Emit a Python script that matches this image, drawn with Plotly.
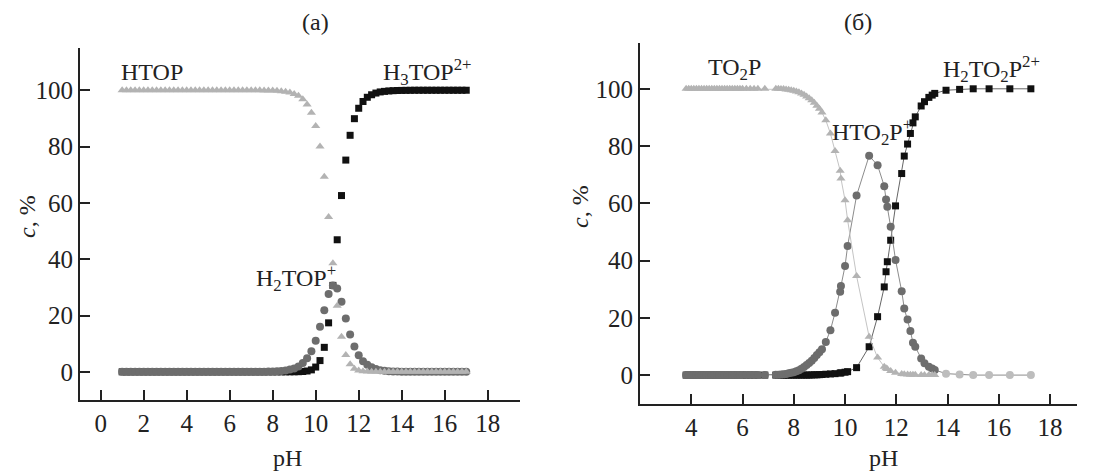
import plotly.graph_objects as go

# ---------------- Panel (a) data ----------------
ph_a = [1.0, 1.2, 1.4, 1.6, 1.8, 2.0, 2.2, 2.4, 2.6, 2.8,
        3.0, 3.2, 3.4, 3.6, 3.8, 4.0, 4.2, 4.4, 4.6, 4.8,
        5.0, 5.2, 5.4, 5.6, 5.8, 6.0, 6.2, 6.4, 6.6, 6.8,
        7.0, 7.2, 7.4, 7.6, 7.8, 8.0, 8.2, 8.4, 8.6, 8.8,
        9.0, 9.2, 9.4, 9.6, 9.8, 10.0, 10.2, 10.4, 10.6, 10.8,
        11.0, 11.2, 11.4, 11.6, 11.8, 12.0, 12.2, 12.4, 12.6, 12.8,
        13.0, 13.2, 13.4, 13.6, 13.8, 14.0, 14.2, 14.4, 14.6, 14.8,
        15.0, 15.2, 15.4, 15.6, 15.8, 16.0, 16.2, 16.4, 16.6, 16.8,
        17.0]

htop = [100, 100, 100, 100, 100, 100, 100, 100, 100, 100,
        100, 100, 100, 100, 100, 100, 100, 100, 100, 100,
        100, 100, 100, 100, 100, 100, 100, 100, 100, 100,
        100, 100, 100, 99.95, 99.92, 99.87, 99.8, 99.68, 99.5, 99.2,
        98.7, 98.0, 96.8, 94.9, 92.0, 87.3, 80.0, 69.3, 55.0, 38.6,
        23.5, 12.5, 6.0, 2.7, 1.1, 0.5, 0.2, 0.1, 0, 0,
        0, 0, 0, 0, 0, 0, 0, 0, 0, 0,
        0, 0, 0, 0, 0, 0, 0, 0, 0, 0,
        0]

h2top = [0, 0, 0, 0, 0, 0, 0, 0, 0, 0,
         0, 0, 0, 0, 0, 0, 0, 0, 0, 0,
         0, 0, 0, 0, 0, 0, 0, 0, 0, 0,
         0, 0.02, 0.03, 0.05, 0.08, 0.13, 0.2, 0.32, 0.5, 0.8,
         1.2, 1.9, 3.1, 4.8, 7.3, 11.0, 16.0, 21.9, 27.6, 30.7,
         29.6, 24.9, 18.9, 13.3, 9.0, 5.9, 3.8, 2.5, 1.6, 1.0,
         0.6, 0.4, 0.25, 0.16, 0.1, 0.06, 0.04, 0.02, 0, 0,
         0, 0, 0, 0, 0, 0, 0, 0, 0, 0,
         0]

h3top = [0, 0, 0, 0, 0, 0, 0, 0, 0, 0,
         0, 0, 0, 0, 0, 0, 0, 0, 0, 0,
         0, 0, 0, 0, 0, 0, 0, 0, 0, 0,
         0, 0, 0, 0, 0, 0, 0, 0, 0, 0.01,
         0.02, 0.05, 0.12, 0.3, 0.7, 1.7, 4.0, 8.7, 17.4, 30.7,
         46.9, 62.6, 75.2, 84.0, 89.9, 93.6, 96.0, 97.5, 98.4, 99.0,
         99.4, 99.6, 99.75, 99.84, 99.9, 99.94, 99.96, 99.98, 100, 100,
         100, 100, 100, 100, 100, 100, 100, 100, 100, 100,
         100]

# ---------------- Panel (б) data ----------------
ph_b = [3.8, 3.9, 4.0, 4.1, 4.2, 4.3, 4.4, 4.5, 4.6, 4.7,
        4.8, 4.9, 5.0, 5.1, 5.2, 5.3, 5.4, 5.5, 5.6, 5.7,
        5.8, 5.9, 6.0, 6.15, 6.3, 6.45, 6.6, 6.87,
        7.3, 7.4, 7.5, 7.6, 7.7, 7.8, 7.9, 8.0, 8.1, 8.2,
        8.3, 8.4, 8.5, 8.6, 8.7, 8.8, 8.9, 9.0, 9.1,
        9.25, 9.43, 9.61, 9.81, 9.84, 10.0, 10.1, 10.45, 10.94, 11.27,
        11.53, 11.6, 11.65, 11.78, 11.97, 12.21, 12.31, 12.44, 12.55, 12.65,
        12.74, 12.97, 13.1, 13.27, 13.4, 13.5,
        13.94, 14.47, 15.0, 15.62, 16.43, 17.25]

to2p = [100, 100, 100, 100, 100, 100, 100, 100, 100, 100,
        100, 100, 100, 100, 100, 100, 100, 100, 100, 100,
        100, 100, 100, 100, 100, 100, 100, 100,
        100, 100, 99.9, 99.9, 99.8, 99.7, 99.5, 99.3, 99.1, 98.8,
        98.4, 97.9, 97.3, 96.7, 96.0, 95.1, 94.1, 93.0, 91.7,
        89.0, 84.4, 78.3, 71.4, 68.7, 61.1, 54.1, 34.6, 13.4, 6.1,
        2.9, 2.4, 2.1, 1.4, 0.8, 0.4, 0.3, 0.2, 0.1, 0.1,
        0.1, 0, 0, 0, 0, 0]

hto2p = [0, 0, 0, 0, 0, 0, 0, 0, 0, 0,
         0, 0, 0, 0, 0, 0, 0, 0, 0, 0,
         0, 0, 0, 0, 0, 0, 0, 0,
         0.1, 0.15, 0.2, 0.3, 0.4, 0.6, 0.8, 1.0, 1.3, 1.7,
         2.2, 2.8, 3.5, 4.2, 5.0, 6.0, 7.0, 8.0, 9.0,
         11.6, 15.7, 21.8, 29.1, 31.1, 38.1, 45.1, 62.7, 76.6, 73.3,
         66.0, 61.3, 58.8, 51.8, 40.2, 29.3, 23.3, 19.4, 15.4, 11.3,
         9.9, 5.8, 4.1, 2.9, 2.3, 1.8,
         0.5, 0.2, 0, 0, 0, 0]

h2to2p = [0, 0, 0, 0, 0, 0, 0, 0, 0, 0,
          0, 0, 0, 0, 0, 0, 0, 0, 0, 0,
          0, 0, 0, 0, 0, 0, 0, 0,
          0, 0, 0, 0, 0, 0, 0, 0, 0, 0,
          0, 0, 0, 0, 0.05, 0.1, 0.1, 0.15, 0.2,
          0.3, 0.4, 0.5, 0.7, 0.8, 1.0, 1.2, 2.6, 9.9, 20.4,
          30.8, 36.1, 39.6, 47.1, 59.1, 70.4, 76.5, 80.7, 84.4, 88.1,
          90.2, 94.0, 95.5, 97.0, 97.8, 98.4,
          99.5, 99.8, 100, 100, 100, 100]

LIGHT = "#b3b3b3"
MID = "#6d6d6d"
DARK = "#111111"
TXT = "#222222"
FONT = "Liberation Serif"

n_tri_b = 74  # triangles of panel (б) end at pH 13.5
circ_colors_b = [MID if x <= 13.5 else "#bdbdbd" for x in ph_b]

fig = go.Figure()

# Panel (a): markers only
fig.add_trace(go.Scatter(x=ph_a, y=h3top, mode="markers", xaxis="x", yaxis="y",
                         marker=dict(symbol="square", size=7, color=DARK)))
fig.add_trace(go.Scatter(x=ph_a, y=h2top, mode="markers", xaxis="x", yaxis="y",
                         marker=dict(symbol="circle", size=8, color=MID)))
fig.add_trace(go.Scatter(x=ph_a, y=htop, mode="markers", xaxis="x", yaxis="y",
                         marker=dict(symbol="triangle-up", size=8, color=LIGHT)))

# Panel (б): markers + thin lines
fig.add_trace(go.Scatter(x=ph_b, y=h2to2p, mode="lines+markers", xaxis="x2", yaxis="y2",
                         line=dict(color="#666666", width=1),
                         marker=dict(symbol="square", size=7, color=DARK)))
fig.add_trace(go.Scatter(x=ph_b, y=hto2p, mode="lines+markers", xaxis="x2", yaxis="y2",
                         line=dict(color="#8c8c8c", width=1),
                         marker=dict(symbol="circle", size=8, color=circ_colors_b)))
fig.add_trace(go.Scatter(x=ph_b[:n_tri_b], y=to2p[:n_tri_b], mode="lines+markers",
                         xaxis="x2", yaxis="y2",
                         line=dict(color="#c4c4c4", width=1),
                         marker=dict(symbol="triangle-up", size=8, color=LIGHT)))

axis_common = dict(showline=True, linecolor=TXT, linewidth=2, ticks="inside",
                   ticklen=10, tickwidth=2, tickcolor=TXT, showgrid=False,
                   zeroline=False, mirror=False,
                   tickfont=dict(family=FONT, size=25, color=TXT))

# The page body has an 8 px margin, so the figure starts at (8, 8) in the window.
OFF = 8
W, H = 1115 - OFF, 471 - OFF


def px(x):
    return (x - OFF) / W


def py(y):
    return 1 - (y - OFF) / H


fig.update_layout(
    width=W, height=H, margin=dict(l=0, r=0, t=0, b=0),
    paper_bgcolor="white", plot_bgcolor="white", showlegend=False,
    xaxis=dict(domain=[px(80), px(520)], range=[-0.96, 19.5],
               tickvals=[0, 2, 4, 6, 8, 10, 12, 14, 16, 18], anchor="y", **axis_common),
    yaxis=dict(domain=[py(400), py(48)], range=[-10, 115],
               tickvals=[0, 20, 40, 60, 80, 100], anchor="x", **axis_common),
    xaxis2=dict(domain=[px(640), px(1077)], range=[2.0, 19.05],
                tickvals=[4, 6, 8, 10, 12, 14, 16, 18], anchor="y2", **axis_common),
    yaxis2=dict(domain=[py(404), py(43)], range=[-10.1, 116],
                tickvals=[0, 20, 40, 60, 80, 100], anchor="x2", **axis_common),
)

f = dict(family=FONT, size=24, color=TXT)
ann = [
    dict(text="(a)", x=px(315), y=py(22), xref="paper", yref="paper"),
    dict(text="(б)", x=px(858), y=py(22), xref="paper", yref="paper"),
    dict(text="pH", x=px(287), y=py(458), xref="paper", yref="paper"),
    dict(text="pH", x=px(883), y=py(458), xref="paper", yref="paper"),
    dict(text="<i>c</i>, %", x=px(27), y=py(217), xref="paper", yref="paper", textangle=-90),
    dict(text="<i>c</i>, %", x=px(580), y=py(207), xref="paper", yref="paper", textangle=-90),
    dict(text="HTOP", x=2.4, y=106.5, xref="x", yref="y"),
    dict(text="H<sub>3</sub>TOP<sup>2+</sup>", x=15.2, y=106.5, xref="x", yref="y"),
    dict(text="H<sub>2</sub>TOP<sup>+</sup>", x=9.1, y=33.5, xref="x", yref="y"),
    dict(text="TO<sub>2</sub>P", x=5.7, y=107, xref="x2", yref="y2"),
    dict(text="HTO<sub>2</sub>P<sup>+</sup>", x=11.05, y=85, xref="x2", yref="y2"),
    dict(text="H<sub>2</sub>TO<sub>2</sub>P<sup>2+</sup>", x=15.7, y=107, xref="x2", yref="y2"),
]
for a in ann:
    a.update(showarrow=False, font=f, xanchor="center", yanchor="middle")
fig.update_layout(annotations=ann)

fig.write_html("out.html")
